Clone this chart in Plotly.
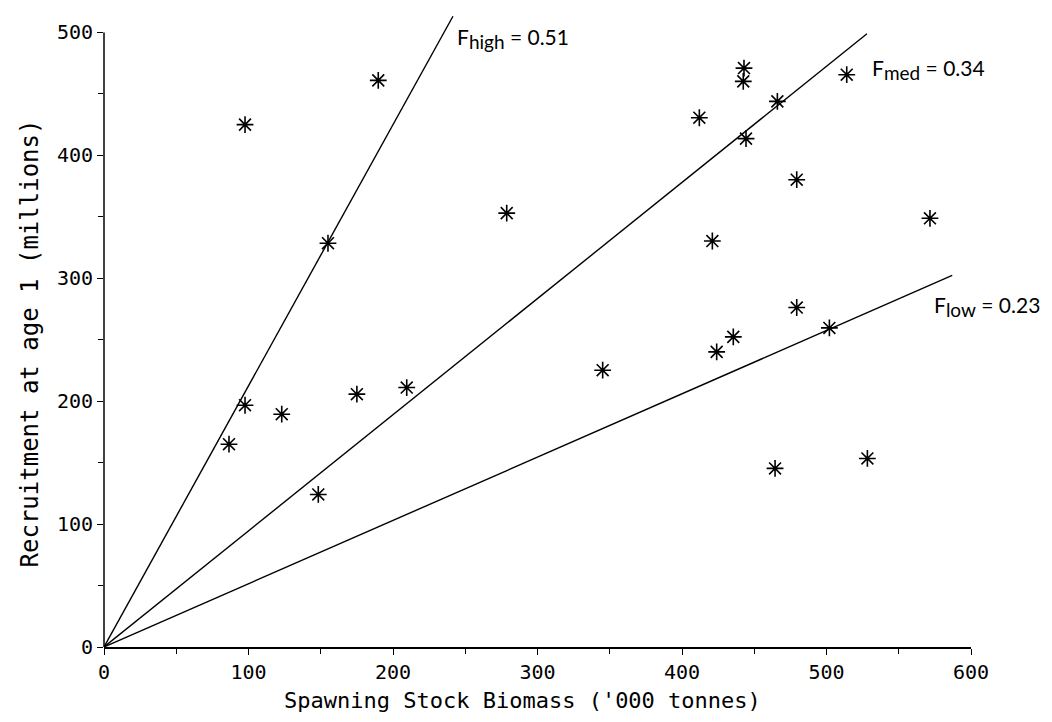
import plotly.graph_objects as go

# Stock-recruitment observations ('000 t, millions)
ssb = [86.5, 97.6, 97.6, 123, 148.3, 155, 175, 189.8, 209.5, 278.7, 345.1,
       412, 421, 424, 435.5, 442.9, 442.4, 444.3, 464.4, 466, 479.4, 479.4,
       502, 514, 528.3, 571.6]
recruits = [165, 196.7, 425, 189.4, 124.1, 328.5, 205.7, 461, 211.1, 353, 225.2,
            430.6, 330.3, 240.1, 252.3, 471, 460.2, 413.6, 145.3, 443.9, 380.2, 276.2,
            259.6, 465.6, 153.4, 348.8]

# Replacement lines (R/SSB slopes) and the SSB where each drawn line ends
f_names = ["high", "med", "low"]
f_values = ["0.51", "0.34", "0.23"]
f_slopes = [2.125, 0.945, 0.515]
f_line_end = [241.5, 528, 587]
label_x = [243, 530, 573]
label_y = [495, 470, 277]

x_ticks = [0, 100, 200, 300, 400, 500, 600]
y_ticks = [0, 100, 200, 300, 400, 500]

fig = go.Figure()

for slope, xe in zip(f_slopes, f_line_end):
    fig.add_trace(go.Scatter(x=[0, xe], y=[0, slope * xe], mode="lines",
                             line=dict(color="black", width=1.4),
                             showlegend=False, hoverinfo="skip"))

fig.add_trace(go.Scatter(x=ssb, y=recruits, mode="markers",
                         marker=dict(symbol="asterisk-open", size=14, color="black",
                                     line=dict(color="black", width=1.6)),
                         showlegend=False, cliponaxis=False))

for name, val, lx, ly in zip(f_names, f_values, label_x, label_y):
    fig.add_annotation(x=lx, y=ly, xref="x", yref="y",
                       text=f"F<sub><span style='font-size:19px'>{name}</span></sub> = {val}",
                       showarrow=False, xanchor="left", yanchor="middle",
                       font=dict(family="Lato", size=21, color="black"))

mono = "DejaVu Sans Mono"

# axis titles
fig.add_annotation(x=-0.085, y=0.48, xref="paper", yref="paper",
                   text="Recruitment at age 1 (millions)", textangle=-90,
                   showarrow=False, xanchor="center", yanchor="middle",
                   font=dict(family=mono, size=24, color="black"))
fig.add_annotation(x=0.483, y=-0.085, xref="paper", yref="paper",
                   text="Spawning Stock Biomass ('000 tonnes)",
                   showarrow=False, xanchor="center", yanchor="middle",
                   font=dict(family=mono, size=22, color="black"))

# y axis line drawn only up to 500
fig.add_shape(type="line", xref="paper", yref="y", x0=0, x1=0, y0=0, y1=500,
              line=dict(color="black", width=1.5))

fig.update_layout(
    width=1044, height=714,
    paper_bgcolor="white", plot_bgcolor="white",
    margin=dict(l=96, r=81, t=5.5, b=75),
    font=dict(family=mono, size=17, color="black"),
    xaxis=dict(range=[0, 600], tickvals=x_ticks, ticks="outside", ticklen=6,
               tickwidth=1, tickcolor="black", showline=True, linecolor="black",
               linewidth=1.5, showgrid=False, zeroline=False,
               minor=dict(dtick=50, ticks="outside", ticklen=5, tickcolor="black"),
               tickfont=dict(family=mono, size=20)),
    yaxis=dict(range=[0, 515], tickvals=y_ticks, ticks="outside", ticklen=6,
               tickwidth=1, tickcolor="black", showline=False,
               showgrid=False, zeroline=False,
               minor=dict(tickvals=[50, 150, 250, 350, 450], ticks="outside",
                          ticklen=5, tickcolor="black"),
               tickfont=dict(family=mono, size=20)),
)

fig.write_html("out.html")
